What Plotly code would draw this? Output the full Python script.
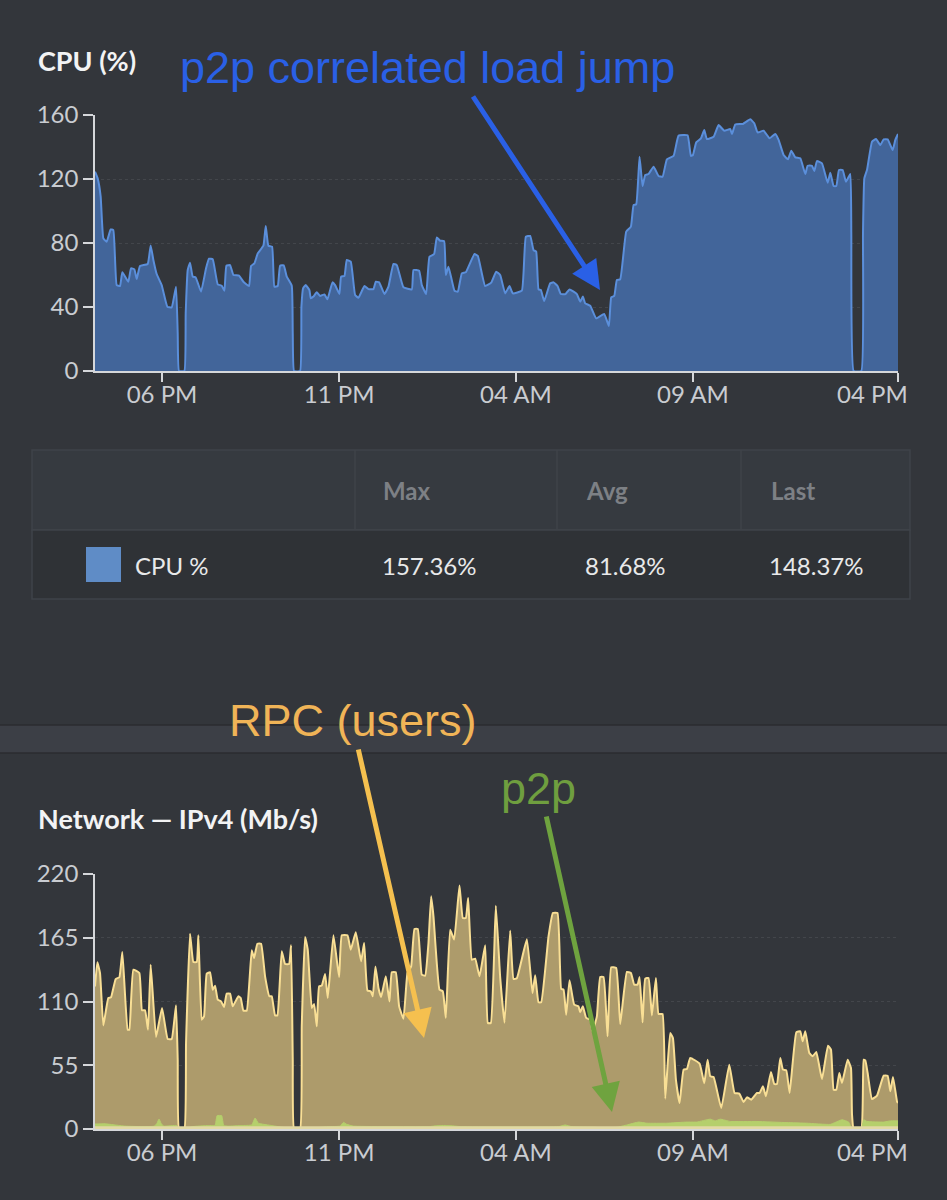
import plotly.graph_objects as go

# time is in steps of roughly 34 s from the start of the window
tick_steps = [201, 732, 1262, 1793, 2408]
tick_labels = ["06 PM", "11 PM", "04 AM", "09 AM", ""]
last_tick_label = "04 PM"

cpu_ticks = [0, 40, 80, 120, 160]
net_ticks = [0, 55, 110, 165, 220]

cpu_steps = [0, 8, 17, 25, 35, 47, 55, 65, 75, 82, 100, 108, 118, 125, 135, 158, 167, 175, 185, 200, 217, 230, 243, 248, 252, 268, 272, 278, 285, 293, 302, 318, 333, 342, 353, 368, 380, 388, 394, 405, 415, 432, 445, 462, 468, 478, 488, 505, 512, 520, 531, 538, 548, 555, 566, 575, 590, 593, 597, 615, 619, 624, 632, 643, 647, 655, 665, 675, 688, 697, 712, 720, 733, 738, 748, 755, 767, 780, 790, 808, 820, 835, 842, 852, 868, 880, 895, 905, 925, 950, 955, 972, 980, 993, 1003, 1017, 1025, 1035, 1047, 1052, 1060, 1078, 1088, 1100, 1112, 1138, 1148, 1170, 1188, 1203, 1215, 1230, 1243, 1253, 1280, 1292, 1305, 1315, 1323, 1330, 1337, 1347, 1365, 1375, 1387, 1397, 1411, 1423, 1445, 1455, 1463, 1470, 1485, 1503, 1527, 1541, 1548, 1557, 1565, 1575, 1593, 1607, 1615, 1623, 1633, 1642, 1650, 1660, 1675, 1690, 1702, 1715, 1735, 1750, 1777, 1787, 1793, 1803, 1817, 1827, 1835, 1855, 1870, 1887, 1905, 1910, 1920, 1943, 1965, 1977, 1987, 2005, 2023, 2040, 2050, 2065, 2078, 2088, 2100, 2115, 2130, 2137, 2150, 2157, 2165, 2180, 2197, 2205, 2215, 2223, 2231, 2242, 2252, 2265, 2268, 2275, 2298, 2303, 2307, 2315, 2330, 2342, 2355, 2365, 2377, 2392, 2400, 2408]
cpu_values = [124.6, 120.4, 109, 82.9, 80.8, 88.5, 88.1, 53.7, 53.1, 61.7, 55.8, 64.2, 63.5, 57.5, 65.6, 66.9, 78.5, 69.4, 60.6, 53.7, 40.2, 39.8, 52.7, 23.5, 0, 0, 36, 63.1, 67.7, 59, 58.5, 49.6, 64.2, 70.2, 69.8, 54.2, 53.3, 50.2, 65.8, 66.2, 60, 59.6, 55.8, 53.1, 65.6, 67.3, 73.5, 78.3, 90.6, 78.3, 77.7, 52.7, 53.1, 65.8, 66, 59, 53.3, 23.5, 0, 0, 40.2, 51.7, 53.7, 50.6, 45.4, 46.5, 49.2, 46.9, 47.9, 44.8, 55.4, 53.7, 48.1, 59, 59.4, 69.4, 68.3, 47.5, 45.8, 53.1, 51.2, 51.2, 55.8, 55.4, 48.1, 52.7, 66.9, 66.2, 52.3, 51, 63.1, 62.7, 53.7, 48.1, 71.4, 73.1, 83.5, 81.4, 81.2, 60, 65.2, 50.2, 49.6, 61, 61.7, 73.1, 71.9, 53.1, 55.2, 62.1, 60, 48.5, 53.1, 48.5, 50.2, 83.9, 84.4, 75.6, 74.6, 51, 50.6, 43.7, 54.8, 55.4, 53.1, 48.1, 48.1, 51, 48.1, 43.3, 46.5, 42.3, 40.8, 32.9, 35.6, 28.1, 46, 46.9, 56.9, 57.3, 87.1, 90.2, 103.7, 104.2, 133.9, 115.6, 122.5, 123.1, 127.7, 121.9, 121.4, 132.3, 134.4, 147.1, 147.3, 134.4, 135, 142.9, 145.4, 150.6, 145, 146.4, 153.7, 150.2, 151.2, 148.1, 154.1, 154.4, 157.3, 154.8, 149.1, 150.2, 145.4, 148.1, 144.4, 135, 132.3, 137.7, 133.5, 132.9, 123.1, 128.3, 128.3, 125, 131.2, 129.8, 117.7, 123.9, 115.6, 115.6, 125.6, 125.6, 118.3, 123.1, 86, 0, 0, 86, 120.4, 125.6, 143.3, 145, 141.2, 144.8, 144.8, 138.1, 144.4, 148.1]

rpc_steps = [0, 7, 15, 25, 40, 48, 62, 73, 82, 98, 103, 115, 133, 141, 150, 159, 167, 183, 201, 218, 230, 243, 248, 252, 268, 273, 285, 295, 305, 310, 320, 327, 335, 345, 353, 360, 368, 378, 387, 395, 405, 413, 430, 437, 445, 455, 470, 477, 487, 498, 510, 523, 530, 540, 547, 560, 570, 582, 588, 593, 597, 615, 620, 630, 638, 650, 657, 665, 672, 680, 690, 698, 715, 732, 740, 757, 767, 782, 798, 807, 817, 827, 833, 841, 850, 858, 872, 883, 890, 902, 912, 925, 937, 948, 958, 968, 980, 990, 1000, 1008, 1015, 1033, 1043, 1052, 1065, 1077, 1093, 1103, 1112, 1119, 1130, 1140, 1153, 1170, 1178, 1187, 1202, 1215, 1228, 1245, 1255, 1265, 1295, 1312, 1320, 1330, 1338, 1360, 1373, 1387, 1398, 1405, 1413, 1423, 1437, 1450, 1455, 1463, 1473, 1485, 1492, 1505, 1515, 1525, 1537, 1548, 1563, 1575, 1595, 1607, 1617, 1627, 1633, 1642, 1650, 1660, 1670, 1682, 1690, 1702, 1710, 1725, 1733, 1742, 1753, 1765, 1775, 1785, 1813, 1827, 1837, 1845, 1855, 1878, 1902, 1918, 1932, 1945, 1955, 1968, 1985, 1993, 2003, 2012, 2027, 2037, 2045, 2055, 2063, 2073, 2083, 2103, 2115, 2122, 2130, 2142, 2152, 2163, 2180, 2198, 2207, 2215, 2223, 2232, 2240, 2257, 2267, 2270, 2275, 2298, 2305, 2310, 2317, 2330, 2345, 2365, 2377, 2385, 2393, 2405, 2408]
rpc_values = [123, 143.8, 134.6, 89.4, 113, 113.6, 129.4, 130.9, 152.7, 85.7, 85.7, 137.5, 134.6, 102.4, 102.4, 85.7, 141.8, 79.4, 104.4, 77.7, 77.7, 106.7, 59.8, 0, 0, 74.2, 168.5, 144.1, 144.1, 167.1, 94.3, 97.2, 134, 135.2, 120.2, 123.7, 111.6, 110.1, 105.3, 116.8, 116.8, 105.8, 114.5, 113, 102.1, 102.1, 154.2, 147.5, 159.9, 159.9, 131.7, 114.5, 114.5, 98, 98, 153.3, 142.4, 142.4, 158.5, 59.8, 0, 0, 88.6, 165.7, 154.7, 104.4, 107.9, 88.6, 123.1, 123.7, 133.7, 113, 167.1, 131.1, 167.1, 167.1, 154.7, 169.7, 144.7, 160.5, 119.4, 118.8, 114.5, 140.3, 121.7, 113.9, 131.7, 110.1, 135.2, 135.2, 105.8, 95.2, 134.6, 140.3, 172.6, 172.6, 133.2, 132.3, 160.5, 200.7, 183.5, 120.2, 118.8, 95.8, 172, 163.4, 210, 182, 182, 199.3, 146.1, 147, 131.7, 158.5, 91.5, 91.5, 192.7, 131, 91.7, 171, 129.4, 130, 163.6, 117.3, 132.6, 109.3, 109.3, 166.2, 186.4, 186.4, 120.8, 120.2, 98.6, 128.3, 107.3, 105.8, 100.7, 105.8, 95.8, 94.3, 84.3, 97.2, 131.1, 131.1, 80, 139.5, 138.9, 90.6, 135.5, 134.6, 124.5, 124.5, 131.1, 92, 129.7, 130.3, 98, 130.3, 99.2, 99.2, 26.2, 82.8, 78.5, 42.6, 22.4, 51.2, 51.8, 61.3, 56.4, 39.4, 59.8, 45.4, 44.9, 18.1, 55.5, 31.1, 30.5, 23.3, 27.3, 25.3, 31.1, 31.1, 36.8, 28.2, 49.2, 38.8, 38.8, 61.3, 51.2, 50.6, 31.1, 83.4, 84.3, 75.6, 84.3, 65.6, 62.7, 66.4, 43.1, 71.9, 68.4, 33.9, 33.9, 48.3, 39.7, 59.8, 52.6, 13, 0, 0, 59.8, 59.2, 48.3, 25.9, 28.8, 46, 46, 32.5, 44.9, 23.9, 22.4]

p2p_steps = [0, 30, 60, 90, 150, 178, 186, 192, 198, 206, 245, 252, 268, 290, 340, 360, 366, 380, 386, 400, 440, 470, 480, 490, 530, 540, 597, 615, 700, 735, 745, 755, 775, 1000, 1030, 1060, 1100, 1390, 1410, 1430, 1500, 1515, 1565, 1595, 1630, 1655, 1715, 1775, 1805, 1845, 1860, 1875, 1905, 1985, 2075, 2135, 2205, 2240, 2260, 2270, 2298, 2305, 2315, 2365, 2385, 2408]
p2p_values = [4.3, 4.5, 3.5, 2.5, 2, 2.5, 5, 8.6, 5, 2.5, 3, 0, 0, 2, 3, 3, 11.5, 11.5, 3, 2.5, 3, 3.5, 9.5, 5, 3, 2.5, 0, 0, 2, 2.5, 5.7, 4, 2.5, 2, 3, 3, 2, 2, 3.5, 2, 1.5, 1, 1.5, 3.5, 6, 5, 5, 6, 6, 8.5, 7, 8.5, 6.5, 6.5, 5.5, 5, 4, 8, 6, 0, 0, 8, 6.5, 6, 7, 7]

base_steps = [0, 2408]
base_values = [1, 1]

table_headers = ["Max", "Avg", "Last"]
table_row = ["157.36%", "81.68%", "148.37%"]
legend_name = "CPU %"

W, H = 947, 1200
BG = "#33363b"
FONT = "Lato, sans-serif"
LABEL = "#c9ccd1"


def px(x):
    return x / W


def py(y):
    return 1 - y / H


def area(xs, ys, line, fill, width, xa, ya):
    return go.Scatter(x=xs, y=ys, mode="lines", xaxis=xa, yaxis=ya, showlegend=False,
                      line=dict(color=line, width=width, shape="spline", smoothing=0.35),
                      fill="tozeroy", fillcolor=fill)


fig = go.Figure()
fig.add_trace(area(cpu_steps, cpu_values, "#5b8fdb", "#42659a", 2, "x", "y"))
fig.add_trace(area(rpc_steps, rpc_values, "#f9df95", "#ad9b6b", 2, "x2", "y2"))
fig.add_trace(area(p2p_steps, p2p_values, "#b5cf6c", "#b5cf6c", 1, "x2", "y2"))
fig.add_trace(go.Scatter(x=base_steps, y=base_values, mode="lines", xaxis="x2", yaxis="y2",
                         showlegend=False, line=dict(color="#e2d9a4", width=3)))

common_x = dict(range=[0, 2408], tickvals=tick_steps, ticktext=tick_labels, ticks="outside",
                ticklen=9, tickwidth=1.5, tickcolor="#d5d7da", showline=True, linecolor="#d5d7da",
                linewidth=1.5, showgrid=False, zeroline=False, automargin=False, ticklabelstandoff=-8,
                tickfont=dict(family=FONT, size=24, color=LABEL))
common_y = dict(ticks="outside", ticklen=10, tickwidth=1.5, tickcolor="#d5d7da", showline=True,
                linecolor="#d5d7da", linewidth=1.5, zeroline=False, showgrid=True, automargin=False,
                gridcolor="#43464b", griddash="dot", gridwidth=1,
                tickfont=dict(family=FONT, size=24, color=LABEL))

shapes = [
    # divider between the two panels
    dict(type="rect", xref="paper", yref="paper", x0=0, x1=1, y0=py(753), y1=py(725),
         fillcolor="#3c3f46", line=dict(width=0), layer="below"),
    dict(type="line", xref="paper", yref="paper", x0=0, x1=1, y0=py(725), y1=py(725),
         line=dict(color="#2b2d31", width=1.5), layer="below"),
    dict(type="line", xref="paper", yref="paper", x0=0, x1=1, y0=py(753), y1=py(753),
         line=dict(color="#2b2d31", width=1.5), layer="below"),
    # table
    dict(type="rect", xref="paper", yref="paper", x0=px(32), x1=px(910), y0=py(530), y1=py(450),
         fillcolor="#363a40", line=dict(color="#3f4349", width=1.5), layer="below"),
    dict(type="rect", xref="paper", yref="paper", x0=px(32), x1=px(910), y0=py(599), y1=py(530),
         fillcolor="#2f3236", line=dict(color="#3f4349", width=1.5), layer="below"),
    dict(type="rect", xref="paper", yref="paper", x0=px(86), x1=px(121), y0=py(582), y1=py(547),
         fillcolor="#5f8cc6", line=dict(width=0)),
]
for col_x in [355, 557, 741]:
    shapes.append(dict(type="line", xref="paper", yref="paper", x0=px(col_x), x1=px(col_x),
                       y0=py(530), y1=py(450), line=dict(color="#3f4349", width=1.5), layer="below"))


def text(x, y, s, size, color, family=FONT, bold=False):
    return dict(xref="paper", yref="paper", x=px(x), y=py(y), xanchor="left", yanchor="middle",
                showarrow=False, text=f"<b>{s}</b>" if bold else s,
                font=dict(family=family, size=size, color=color))


def arrow(x0, y0, x1, y1, color):
    return dict(xref="paper", yref="paper", x=px(x1), y=py(y1), ax=x0 - x1, ay=y0 - y1,
                axref="pixel", ayref="pixel", text="", showarrow=True, arrowhead=2, arrowsize=1.15,
                arrowwidth=5, arrowcolor=color, standoff=0)


ANNO = "Liberation Sans, Arial, sans-serif"
annotations = [
    text(36, 60, "CPU (%)", 27, "#f2f3f4", bold=True),
    text(36, 818, "Network — IPv4 (Mb/s)", 27, "#f2f3f4", bold=True),
    text(178, 68, "p2p correlated load jump", 45, "#2a60e6", ANNO),
    text(227, 720, "RPC (users)", 45, "#f0b457", ANNO),
    text(499, 788, "p2p", 45, "#6f9e3f", ANNO),
    arrow(472, 95, 600, 290, "#2a60e6"),
    arrow(358, 748, 424, 1038, "#f5c04f"),
    arrow(546, 815, 612, 1112, "#6fa33f"),
    text(133, 565, legend_name, 24, "#e8e9ea"),
    text(835, 393, last_tick_label, 24, LABEL),
    text(835, 1151, last_tick_label, 24, LABEL),
]
for col_x, label in zip([381, 584, 769], table_headers):
    annotations.append(text(col_x, 490, label, 24, "#7d8085", bold=True))
for col_x, value in zip([380, 583, 767], table_row):
    annotations.append(text(col_x, 565, value, 24, "#e8e9ea"))

fig.update_layout(
    width=W, height=H, margin=dict(l=0, r=0, t=0, b=0), autosize=False,
    paper_bgcolor=BG, plot_bgcolor=BG,
    xaxis=dict(domain=[px(95), px(898)], anchor="y", **common_x),
    yaxis=dict(domain=[py(371), py(115)], anchor="x", range=[0, 160], tickvals=cpu_ticks, **common_y),
    xaxis2=dict(domain=[px(95), px(898)], anchor="y2", **common_x),
    yaxis2=dict(domain=[py(1129), py(874)], anchor="x2", range=[0, 220], tickvals=net_ticks, **common_y),
    shapes=shapes, annotations=annotations,
)

fig.write_html("out.html", config=dict(displayModeBar=False),
               post_script="document.body.style.margin='0';document.documentElement.style.background='#33363b';")
